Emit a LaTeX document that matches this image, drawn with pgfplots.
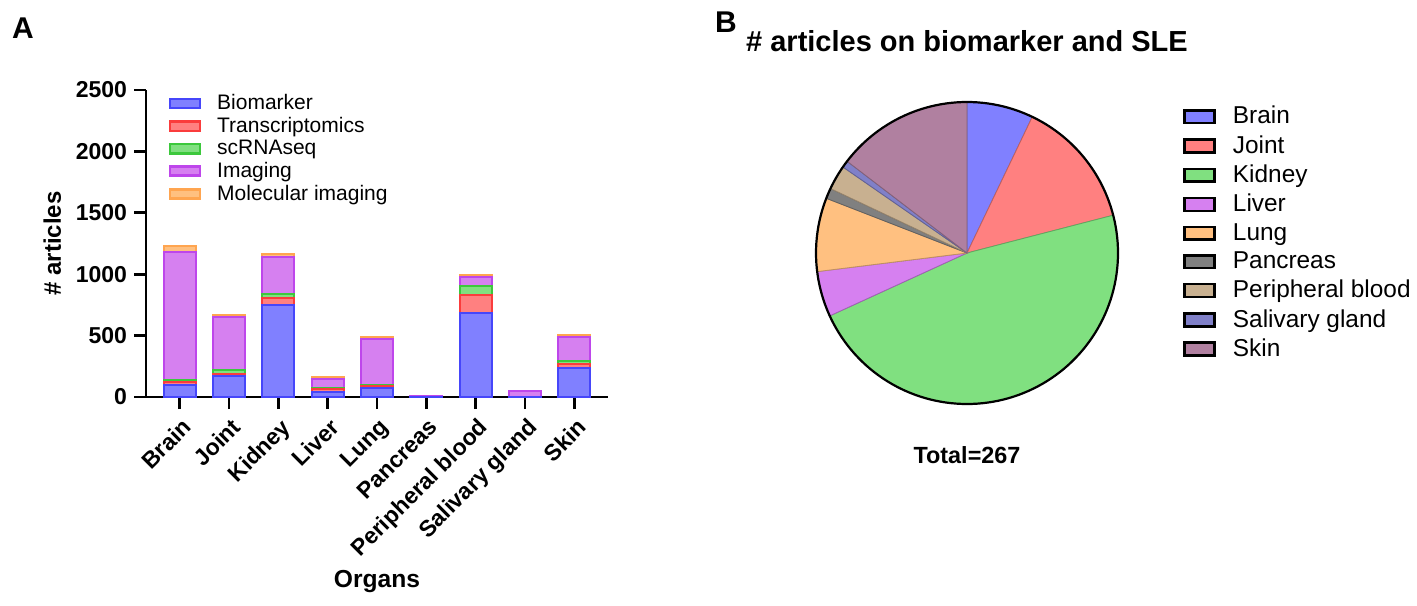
\documentclass[border=0pt]{standalone}
\usepackage{fontspec}
\setmainfont{Liberation Sans}
\usepackage{pgfplots}
\pgfplotsset{compat=1.18}

% bar colours (fill / edge)
\definecolor{bioF}{RGB}{128,128,255}  \definecolor{bioD}{RGB}{70,70,250}
\definecolor{traF}{RGB}{255,128,128}  \definecolor{traD}{RGB}{250,60,60}
\definecolor{scF}{RGB}{128,224,128}   \definecolor{scD}{RGB}{60,200,60}
\definecolor{imgF}{RGB}{214,128,240}  \definecolor{imgD}{RGB}{190,70,235}
\definecolor{molF}{RGB}{255,192,128}  \definecolor{molD}{RGB}{255,165,80}
% pie colours
\definecolor{pBrain}{RGB}{128,128,255}
\definecolor{pJoint}{RGB}{255,128,128}
\definecolor{pKidney}{RGB}{128,224,128}
\definecolor{pLiver}{RGB}{214,128,240}
\definecolor{pLung}{RGB}{255,192,128}
\definecolor{pPanc}{RGB}{128,128,128}
\definecolor{pPeri}{RGB}{200,176,144}
\definecolor{pSal}{RGB}{128,128,200}
\definecolor{pSkin}{RGB}{176,128,160}

\begin{document}
\begin{tikzpicture}
\useasboundingbox (0,0) rectangle (708.5pt,-302.5pt);

\node[font=\fontsize{15}{16}\selectfont\bfseries] at (11.5pt,-14pt) {A};
\node[font=\fontsize{15}{16}\selectfont\bfseries] at (363pt,-11pt) {B};

% ---------- A: stacked bars ----------
\begin{axis}[
    at={(73pt,-198.5pt)}, anchor=south west,
    scale only axis, width=231pt, height=153.5pt,
    ybar stacked, bar width=16pt,
    xmin=-0.68, xmax=8.68, ymin=0, ymax=2500,
    enlargelimits=false,
    axis lines=left,
    axis line style={-, line width=1.35pt},
    every tick/.style={black, line width=1.35pt},
    major tick length=6pt,
    tick align=outside,
    xtick=data,
    xticklabels={Brain,Joint,Kidney,Liver,Lung,Pancreas,Peripheral blood,Salivary gland,Skin},
    ytick={0,500,1000,1500,2000,2500},
    /pgf/number format/assume math mode=true,
    /pgf/number format/1000 sep={},
    tick label style={font=\fontsize{11.5}{13}\selectfont\bfseries},
    xticklabel style={rotate=45, anchor=north east, inner sep=1pt, xshift=-1.2pt, yshift=-2.2pt},
    ylabel={\# articles},
    every axis y label/.style={at={(axis description cs:-0.203,0.5)}, rotate=90, anchor=center,
        font=\fontsize{12}{14}\selectfont\bfseries},
    xlabel={Organs},
    every axis x label/.style={at={(axis description cs:0.5,-0.6)}, anchor=center,
        font=\fontsize{12.3}{14}\selectfont\bfseries},
    legend style={at={(axis description cs:0.048,0.997)}, anchor=north west,
        draw=none, fill=none, font=\fontsize{10.5}{11}\selectfont,
        row sep=-0.7pt, inner sep=0pt,
        nodes={inner sep=1.5pt},
        /tikz/every odd column/.append style={column sep=6.5pt}},
    legend cell align=left,
    legend image code/.code={\draw[#1, line width=1.3pt] (0pt,-2.3pt) rectangle (15pt,2.3pt);},
]
\addplot[fill=bioF, draw=bioD, line width=1pt] coordinates
  {(0,100) (1,173) (2,749) (3,38) (4,71) (5,2) (6,681) (7,2) (8,234)};
\addplot[fill=traF, draw=traD, line width=1pt] coordinates
  {(0,20) (1,14) (2,59) (3,27) (4,20) (5,1) (6,149) (7,0) (8,35)};
\addplot[fill=scF, draw=scD, line width=1pt] coordinates
  {(0,15) (1,30) (2,31) (3,8) (4,7) (5,0) (6,76) (7,0) (8,27)};
\addplot[fill=imgF, draw=imgD, line width=1pt] coordinates
  {(0,1048) (1,432) (2,303) (3,74) (4,374) (5,4) (6,74) (7,45) (8,190)};
\addplot[fill=molF, draw=molD, line width=1pt] coordinates
  {(0,45) (1,21) (2,20) (3,18) (4,19) (5,1) (6,13) (7,3) (8,19)};
\legend{Biomarker,Transcriptomics,scRNAseq,Imaging,Molecular imaging}
\end{axis}

% ---------- B: pie, total 267 ----------
% counts: Brain 19, Joint 37, Kidney 126, Liver 13, Lung 21,
%         Pancreas 3, Peripheral blood 7, Salivary gland 2, Skin 39
\begin{axis}[
    at={(483.5pt,-126.5pt)}, anchor=center,
    scale only axis, width=151pt, height=151pt,
    xmin=-1, xmax=1, ymin=-1, ymax=1,
    hide axis, clip=false,
    legend style={at={(axis description cs:1.215,0.997)}, anchor=north west,
        draw=none, fill=none, font=\fontsize{12.2}{13}\selectfont,
        row sep=1.3pt, inner sep=0pt, nodes={inner sep=1.5pt},
        /tikz/every odd column/.append style={column sep=7pt}},
    legend cell align=left,
    legend image code/.code={\draw[#1] (0pt,-3.2pt) rectangle (15pt,3.2pt);},
    legend entries={Brain,Joint,Kidney,Liver,Lung,Pancreas,Peripheral blood,Salivary gland,Skin},
]
\addlegendimage{fill=pBrain, draw=black, line width=1.3pt}
\addlegendimage{fill=pJoint, draw=black, line width=1.3pt}
\addlegendimage{fill=pKidney, draw=black, line width=1.3pt}
\addlegendimage{fill=pLiver, draw=black, line width=1.3pt}
\addlegendimage{fill=pLung, draw=black, line width=1.3pt}
\addlegendimage{fill=pPanc, draw=black, line width=1.3pt}
\addlegendimage{fill=pPeri, draw=black, line width=1.3pt}
\addlegendimage{fill=pSal, draw=black, line width=1.3pt}
\addlegendimage{fill=pSkin, draw=black, line width=1.3pt}
\addplot[fill=pBrain, draw=pBrain!75!black, thin, domain=0:19, samples=20, variable=\t, forget plot]
  ({cos(90-360*\t/267)},{sin(90-360*\t/267)}) -- (axis cs:0,0) -- cycle;
\addplot[fill=pJoint, draw=pJoint!75!black, thin, domain=19:56, samples=30, variable=\t, forget plot]
  ({cos(90-360*\t/267)},{sin(90-360*\t/267)}) -- (axis cs:0,0) -- cycle;
\addplot[fill=pKidney, draw=pKidney!75!black, thin, domain=56:182, samples=80, variable=\t, forget plot]
  ({cos(90-360*\t/267)},{sin(90-360*\t/267)}) -- (axis cs:0,0) -- cycle;
\addplot[fill=pLiver, draw=pLiver!75!black, thin, domain=182:195, samples=12, variable=\t, forget plot]
  ({cos(90-360*\t/267)},{sin(90-360*\t/267)}) -- (axis cs:0,0) -- cycle;
\addplot[fill=pLung, draw=pLung!75!black, thin, domain=195:216, samples=20, variable=\t, forget plot]
  ({cos(90-360*\t/267)},{sin(90-360*\t/267)}) -- (axis cs:0,0) -- cycle;
\addplot[fill=pPanc, draw=pPanc!75!black, thin, domain=216:219, samples=4, variable=\t, forget plot]
  ({cos(90-360*\t/267)},{sin(90-360*\t/267)}) -- (axis cs:0,0) -- cycle;
\addplot[fill=pPeri, draw=pPeri!75!black, thin, domain=219:226, samples=8, variable=\t, forget plot]
  ({cos(90-360*\t/267)},{sin(90-360*\t/267)}) -- (axis cs:0,0) -- cycle;
\addplot[fill=pSal, draw=pSal!75!black, thin, domain=226:228, samples=4, variable=\t, forget plot]
  ({cos(90-360*\t/267)},{sin(90-360*\t/267)}) -- (axis cs:0,0) -- cycle;
\addplot[fill=pSkin, draw=pSkin!75!black, thin, domain=228:267, samples=30, variable=\t, forget plot]
  ({cos(90-360*\t/267)},{sin(90-360*\t/267)}) -- (axis cs:0,0) -- cycle;
\addplot[black, line width=1.1pt, domain=0:267, samples=181, variable=\t, forget plot]
  ({cos(90-360*\t/267)},{sin(90-360*\t/267)});
\node[font=\fontsize{14.5}{16}\selectfont\bfseries] at (axis description cs:0.5,1.2) {\# articles on biomarker and SLE};
\node[font=\fontsize{11.7}{13}\selectfont\bfseries] at (axis description cs:0.5,-0.17) {Total=267};
\end{axis}
\end{tikzpicture}
\end{document}
